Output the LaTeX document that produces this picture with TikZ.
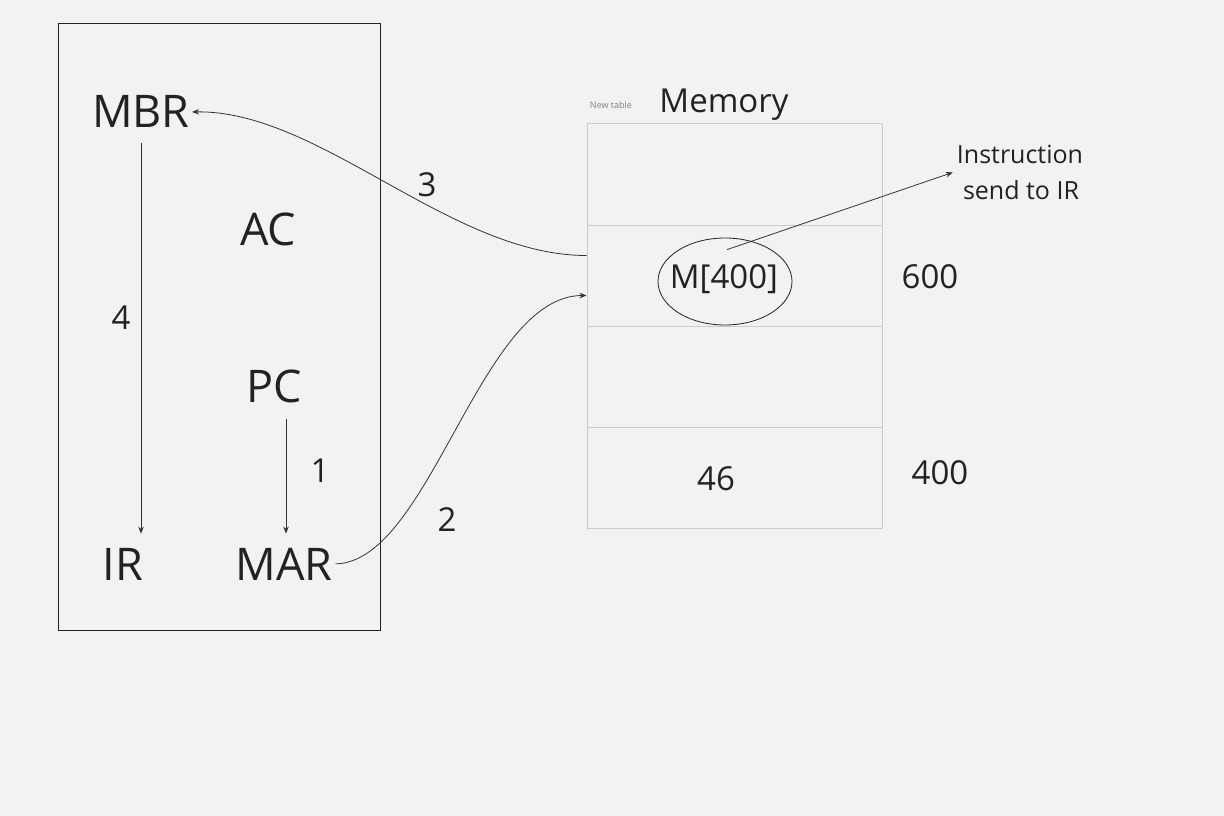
\documentclass[tikz,border=0pt]{standalone}
\usepackage{fontspec}
\setmainfont{Open Sans}
\usetikzlibrary{arrows.meta,shapes.geometric}
\definecolor{bg}{HTML}{F2F2F2}
\definecolor{ink}{HTML}{222222}
\definecolor{cell}{HTML}{CCCCCC}
\definecolor{conn}{HTML}{333333}
\tikzset{
  lbl/.style={inner sep=0pt, text=ink, anchor=base},
  big/.style={lbl, font=\fontsize{45}{54}\selectfont},
  mid/.style={lbl, font=\fontsize{33}{40}\selectfont},
  small/.style={lbl, font=\fontsize{25}{30}\selectfont, align=center},
  memcell/.style={draw=cell, line width=1pt, minimum width=295pt, minimum height=101pt, inner sep=0pt},
  arr/.style={draw=conn, line width=0.8pt, -{Stealth[length=7pt,width=5.5pt]}},
}
\begin{document}
\begin{tikzpicture}[x=1pt,y=-1pt]
\fill[bg] (0,0) rectangle (1224,816);
\useasboundingbox (0,0) rectangle (1224,816);
% CPU box
\node[draw=ink, line width=0.9pt, minimum width=322pt, minimum height=607pt, inner sep=0pt] (cpu) at (219,326.5) {};
\node[big] (mbr) at (141,128) {MBR};
\node[big] (ac) at (268,245) {AC};
\node[big] (pc) at (274,402) {PC};
\node[big] (ir) at (123,580) {IR};
\node[big] (mar) at (284,580) {MAR};
\node[mid] (n4) at (121,329) {4};
\node[mid] (n1) at (320,482) {1};
\node[mid] (n2) at (447,531) {2};
\node[mid] (n3) at (427,196) {3};
% memory table
\node[memcell, minimum height=102pt] (r1) at (734.5,174) {};
\node[memcell] (r2) at (734.5,275.5) {};
\node[memcell] (r3) at (734.5,376.5) {};
\node[memcell] (r4) at (734.5,477.5) {};
\node[lbl, font=\fontsize{9}{11}\selectfont, text=gray] (newt) at (611,109) {New table};
\node[mid] (memt) at (724,112) {Memory};
\node[mid] (m400) at (724,288) {M[400]};
\node[draw=ink, line width=0.8pt, ellipse, minimum width=134pt, minimum height=87pt, inner sep=0pt] (ell) at (725,281.5) {};
\node[mid] (a600) at (930,288) {600};
\node[mid] (v46) at (716,490) {46};
\node[mid] (a400) at (940,484) {400};
\node[small] (instr) at (1020,163) {Instruction};
\node[small] (send) at (1021,199) {send to IR};
% connectors
\draw[arr] ([yshift=-15pt]mbr.south) -- ([yshift=14pt]ir.north -| mbr.south);
\draw[arr] ([xshift=12pt,yshift=-16pt]pc.south) -- ([xshift=2pt,yshift=14pt]mar.north);
\draw[arr] ([xshift=3pt]mar.east) .. controls (430,562) and (480,295.5) .. ([yshift=-20pt]r2.west);
\draw[arr] ([yshift=20pt]r2.west) .. controls (450,255.5) and (320,110) .. ([xshift=2pt]mbr.east);
\draw[arr] ([xshift=2pt,yshift=-12pt]ell.north) -- ([xshift=-4pt,yshift=-9pt]instr.south west);
\end{tikzpicture}
\end{document}
